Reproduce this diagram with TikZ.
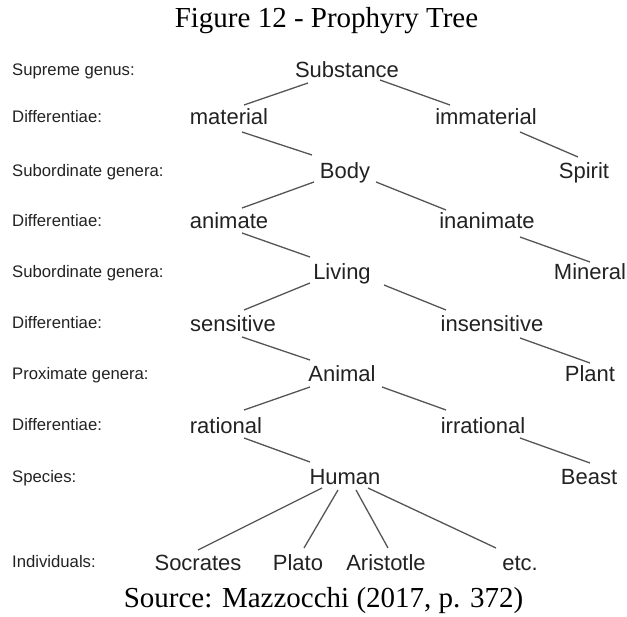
\documentclass[tikz,border=0pt]{standalone}
\usepackage{fontspec}
\setmainfont{Liberation Serif}
\newfontfamily\treefont{Liberation Sans}
\usetikzlibrary{calc}
\definecolor{inkc}{HTML}{222222}
\definecolor{linec}{HTML}{555555}
\tikzset{
  word/.style={anchor=base, inner sep=0pt, text=inkc, font=\treefont\fontsize{22}{24}\selectfont},
  rowlabel/.style={anchor=base west, inner sep=0pt, text=inkc, font=\treefont\fontsize{16.7}{18}\selectfont},
  caption/.style={anchor=base, inner sep=0pt, text=black, font=\fontsize{29}{31}\selectfont},
  link/.style={draw=linec, line width=1.3pt},
}
\newcommand\conn[4]{\draw[link] ($(#1.base)+(#2)$) -- ($(#3.base)+(#4)$);}
\begin{document}
\begin{tikzpicture}[x=1pt,y=-1pt]
\useasboundingbox (0,0) rectangle (627,617);
\node[caption] (title) at (326.5,28) {Figure 12 - Prophyry Tree};
\node[caption] (source) at (323.5,607) {Source: Mazzocchi (2017, p. 372)};
% row labels
\node[rowlabel] (l1) at (12,76) {Supreme genus:};
\node[rowlabel] (l2) at (12,123) {Differentiae:};
\node[rowlabel] (l3) at (12,177) {Subordinate genera:};
\node[rowlabel] (l4) at (12,227) {Differentiae:};
\node[rowlabel] (l5) at (12,278) {Subordinate genera:};
\node[rowlabel] (l6) at (12,329) {Differentiae:};
\node[rowlabel] (l7) at (12,380) {Proximate genera:};
\node[rowlabel] (l8) at (12,431) {Differentiae:};
\node[rowlabel] (l9) at (12,483) {Species:};
\node[rowlabel] (l10) at (12,568) {Individuals:};
% tree words
\node[word] (sub) at (347,78) {Substance};
\node[word] (mat) at (229,125) {material};
\node[word] (imm) at (486,125) {immaterial};
\node[word] (body) at (345,179) {Body};
\node[word] (spi) at (584,179) {Spirit};
\node[word] (ani) at (229,229) {animate};
\node[word] (inan) at (487,229) {inanimate};
\node[word] (liv) at (342,280) {Living};
\node[word] (min) at (590,280) {Mineral};
\node[word] (sen) at (233,332) {sensitive};
\node[word] (ins) at (492,332) {insensitive};
\node[word] (anim) at (342,382) {Animal};
\node[word] (pla) at (590,382) {Plant};
\node[word] (rat) at (226,434) {rational};
\node[word] (irr) at (483,434) {irrational};
\node[word] (hum) at (345,485) {Human};
\node[word] (bea) at (589,485) {Beast};
\node[word] (soc) at (198,570) {Socrates};
\node[word] (plato) at (298,570) {Plato};
\node[word] (ari) at (386,570) {Aristotle};
\node[word] (etc) at (520,570) {etc.};
% connectors
\conn{sub}{-39,5}{mat}{15,-20}
\conn{sub}{33,2}{imm}{-36,-20}
\conn{mat}{13,7}{body}{-33,-24}
\conn{imm}{34,7}{spi}{-6,-22}
\conn{body}{-31,3}{ani}{13,-21}
\conn{body}{31,3}{inan}{-41,-19}
\conn{ani}{13,4}{liv}{-32,-23}
\conn{inan}{33,8}{min}{0,-18}
\conn{liv}{-32,3}{sen}{11,-22}
\conn{liv}{42,5}{ins}{-46,-22}
\conn{sen}{9,5}{anim}{-32,-22}
\conn{ins}{28,6}{pla}{0,-19}
\conn{anim}{-32,5}{rat}{18,-24}
\conn{anim}{40,5}{irr}{-37,-24}
\conn{rat}{18,4}{hum}{-35,-23}
\conn{irr}{37,4}{bea}{1,-22}
\conn{hum}{-23,3}{soc}{0,-20}
\conn{hum}{-7,5}{plato}{6,-22}
\conn{hum}{11,5}{ari}{2,-22}
\conn{hum}{23,3}{etc}{-24,-22}
\end{tikzpicture}
\end{document}
